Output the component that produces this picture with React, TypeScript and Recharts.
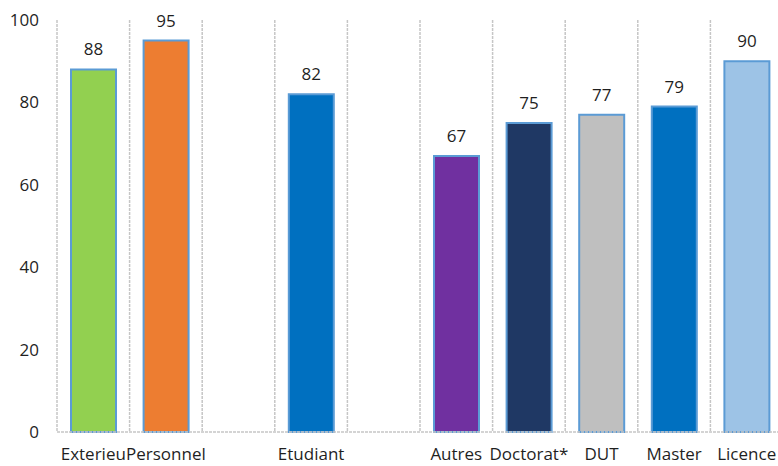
import React from "react";
import { Bar, BarChart, CartesianGrid, Cell, LabelList, XAxis, YAxis } from "recharts";

// Survey satisfaction (%) by respondent group; two blank slots separate the groups
const CATEGORIES = [
  "Exterieur",
  "Personnel",
  "",
  "Etudiant",
  "",
  "Autres",
  "Doctorat*",
  "DUT",
  "Master",
  "Licence",
];
const TICK_LABELS = [
  "Exterieu",
  "Personnel",
  "",
  "Etudiant",
  "",
  "Autres",
  "Doctorat*",
  "DUT",
  "Master",
  "Licence",
];
const VALUES: (number | null)[] = [88, 95, null, 82, null, 67, 75, 77, 79, 90];
const Y_TICKS = [0, 20, 40, 60, 80, 100];

const BAR_COLORS = [
  "#92d050",
  "#ed7d31",
  "#ffffff",
  "#0070c0",
  "#ffffff",
  "#7030a0",
  "#1f3864",
  "#bfbfbf",
  "#0070c0",
  "#9dc3e6",
];

const data = CATEGORIES.map((name, i) => ({ name, value: VALUES[i] }));

const FONT = "'Open Sans', sans-serif";
const TEXT = "#1f1f1f";
const GRID = "#c6c6c6";

export default function App() {
  return (
    <div
      style={{
        position: "absolute",
        left: 0,
        top: 0,
        width: 778,
        height: 466,
        overflow: "hidden",
        background: "#fff",
      }}
    >
      <BarChart
        width={783}
        height={466}
        data={data}
        margin={{ top: 20, right: 0, left: 0, bottom: 4 }}
        barSize={45}
      >
        <CartesianGrid
          horizontal={false}
          stroke={GRID}
          strokeWidth={1.5}
          strokeDasharray="3 1"
          verticalCoordinatesGenerator={({ offset }: any) =>
            CATEGORIES.map(
              (_, i) => offset.left + (i * offset.width) / CATEGORIES.length
            ).concat(offset.left + offset.width)
          }
        />
        <XAxis
          dataKey="name"
          interval={0}
          height={30}
          tickLine={false}
          tickMargin={10}
          axisLine={{ stroke: GRID, strokeWidth: 1.5, strokeDasharray: "3 1" }}
          tickFormatter={(_: string, i: number) => TICK_LABELS[i]}
          tick={{ fill: TEXT, fontSize: 17, fontFamily: FONT }}
        />
        <YAxis
          width={57}
          domain={[0, 100]}
          ticks={Y_TICKS}
          axisLine={false}
          tickLine={false}
          tickMargin={12}
          tick={{ fill: TEXT, fontSize: 17, fontFamily: FONT }}
        />
        <Bar dataKey="value" isAnimationActive={false} strokeWidth={2}>
          {data.map((d, i) => (
            <Cell key={i} fill={BAR_COLORS[i]} stroke="#5b9bd5" />
          ))}
          <LabelList
            dataKey="value"
            position="top"
            offset={14}
            fill={TEXT}
            fontSize={17}
            fontFamily={FONT}
          />
        </Bar>
      </BarChart>
    </div>
  );
}
